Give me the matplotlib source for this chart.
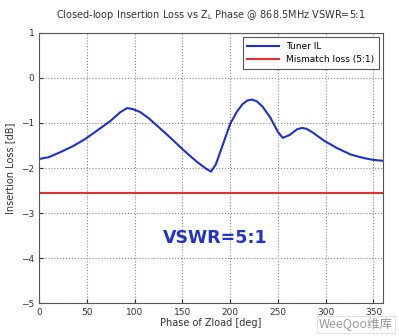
import matplotlib.pyplot as plt

# tuner insertion loss
phase = [0, 10, 22, 35, 48, 60, 75, 85, 92, 98, 106, 115, 134, 151, 165, 175, 180, 185, 192, 200, 207, 213, 218, 223, 228, 234, 242, 250, 255, 262, 270, 275, 280, 287, 298, 312, 326, 340, 350, 360]
tuner_il = [-1.8, -1.76, -1.65, -1.52, -1.36, -1.18, -0.95, -0.76, -0.67, -0.69, -0.76, -0.9, -1.26, -1.6, -1.86, -2.02, -2.08, -1.92, -1.5, -1.02, -0.75, -0.58, -0.5, -0.48, -0.52, -0.64, -0.88, -1.2, -1.33, -1.27, -1.14, -1.11, -1.13, -1.22, -1.39, -1.56, -1.7, -1.78, -1.82, -1.84]

mismatch_loss = -2.55
x_ticks = [0, 50, 100, 150, 200, 250, 300, 350]
y_ticks = [-5, -4, -3, -2, -1, 0, 1]

fig = plt.figure(figsize=(3.99, 3.36), dpi=100)
ax = fig.add_axes([0.098, 0.098, 0.862, 0.804])

ax.plot(phase, tuner_il, color='#1f2fd0', lw=1.5, label='Tuner IL')
ax.plot([0, 360], [mismatch_loss, mismatch_loss], color='#e03030', lw=1.5, label='Mismatch loss (5:1)')

ax.set_xlim(0, 360)
ax.set_ylim(-5, 1)
ax.set_xticks(x_ticks)
ax.set_yticks(y_ticks)
ax.tick_params(direction='in', labelsize=6.5, length=3, colors='#333333')
ax.grid(True, linestyle=':', color='#888888', lw=0.8)
for s in ax.spines.values():
    s.set_color('#555555')

ax.set_xlabel('Phase of Zload [deg]', fontsize=7, color='#333333', labelpad=1)
ax.set_ylabel('Insertion Loss [dB]', fontsize=7, color='#333333', labelpad=4)
ax.set_title('Closed-loop Insertion Loss vs Z$_\\mathregular{L}$ Phase @ 868.5MHz VSWR=5:1',
             fontsize=7, color='#333333', pad=11)

ax.text(184, -3.55, 'VSWR=5:1', color='#2233cc', fontsize=12.5, fontweight='bold',
        ha='center', va='center')

leg = ax.legend(loc='upper right', fontsize=6.5, fancybox=False, framealpha=1,
                edgecolor='#555555', handlelength=3.5, borderpad=0.5)
leg.get_frame().set_linewidth(0.8)

fig.text(0.985, 0.015, 'WeeQoo维库', fontsize=9, color='#999999', ha='right', va='bottom',
         family=['Noto Sans CJK SC', 'DejaVu Sans'], style='italic',
         bbox=dict(facecolor='white', edgecolor='#dddddd', lw=0.6, pad=1.5))

fig.savefig('out.png', dpi=100)
